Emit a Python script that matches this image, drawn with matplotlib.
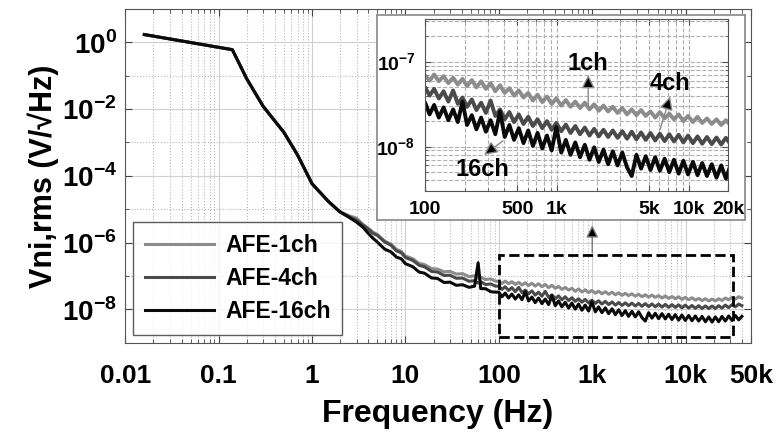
import numpy as np
import matplotlib
matplotlib.use("Agg")
import matplotlib.pyplot as plt
from matplotlib.patches import Rectangle
from matplotlib.ticker import FixedLocator, NullFormatter

plt.rcParams['font.family'] = ['Liberation Sans', 'DejaVu Sans']
plt.rcParams['font.weight'] = 'bold'
plt.rcParams['mathtext.fontset'] = 'custom'
plt.rcParams['mathtext.rm'] = 'Liberation Sans:bold'
plt.rcParams['mathtext.bf'] = 'Liberation Sans:bold'

# shared low-frequency part (V/sqrt(Hz))
f_low = [0.016, 0.14, 0.2, 0.3, 0.5, 0.7, 1.0, 1.5]
v_low = [1.7, 0.6, 0.08, 0.012, 2.0e-3, 4.2e-4, 5.8e-5, 1.7e-5]

# per-channel part, values in units of 1e-8 V/sqrt(Hz)
f_ch = [2, 2.5, 3, 3.5, 4, 4.5, 5, 6, 7, 8, 9, 10, 12, 14, 16, 19, 22, 26, 30, 35,
        41, 48, 55, 60, 64, 72, 82, 92,
        100, 108, 117, 127, 138, 150, 163, 177, 192, 208, 226, 245, 266, 289, 314,
        341, 370, 402, 436, 473, 514, 558, 606, 658, 714, 775, 841, 913, 991, 1080,
        1170, 1270, 1380, 1500, 1630, 1770, 1920, 2080, 2260, 2450, 2660, 2890, 3140,
        3410, 3700, 4020, 4360, 4730, 5140, 5580, 6060, 6580, 7140, 7750, 8410, 9130,
        9910, 10800, 11700, 12700, 13800, 15000, 16300, 17700, 19200, 20800, 22600,
        24500, 26600, 28900, 31400, 34100, 37000, 40000]

v_1ch = [850, 640, 540, 350, 270, 205, 178, 112, 90, 63, 55, 40, 33, 24, 22, 16.8,
         16.2, 13.4, 13.8, 11.5, 11.8, 9.6, 10.2, 8.7, 9.3, 7.9, 8.2, 7.1,
         6.9, 6.0, 7.1, 5.9, 6.8, 5.6, 6.5, 5.4, 6.3, 5.2, 6.1, 5.0, 5.9, 4.8, 5.6,
         4.5, 5.3, 4.3, 4.9, 4.0, 4.6, 3.8, 4.3, 3.5, 4.1, 3.35, 3.9, 3.2, 3.7, 3.05,
         3.55, 2.95, 3.4, 2.85, 3.3, 2.75, 3.15, 2.65, 3.05, 2.6, 2.95, 2.5, 2.85,
         2.4, 2.75, 2.35, 2.7, 2.3, 2.6, 2.2, 2.55, 2.15, 2.45, 2.1, 2.4, 2.0,
         2.3, 1.95, 2.25, 1.9, 2.15, 1.85, 2.1, 1.8, 2.05, 1.8, 2.1,
         1.85, 2.2, 1.95, 2.3, 2.05, 2.4, 2.2]

v_4ch = [830, 600, 470, 340, 255, 190, 165, 105, 84, 57, 50, 36, 29.5, 21, 19, 13.8,
         13.2, 10.4, 10.6, 8.6, 8.7, 7.0, 7.3, 6.2, 6.8, 5.6, 5.8, 5.0,
         5.0, 4.0, 4.8, 3.7, 4.5, 3.4, 4.6, 3.2, 3.8, 2.95, 3.6, 2.7, 3.3, 2.5, 3.5,
         2.3, 2.75, 2.1, 2.55, 1.95, 2.4, 1.85, 2.25, 1.75, 2.1, 1.65, 2.0, 1.58, 1.9,
         1.52, 1.82, 1.45, 1.75, 1.4, 1.68, 1.35, 1.62, 1.32, 1.58, 1.3, 1.55, 1.27,
         1.52, 1.24, 1.5, 1.22, 1.47, 1.2, 1.45, 1.18, 1.42, 1.16, 1.4, 1.15, 1.38,
         1.12, 1.35, 1.1, 1.32, 1.08, 1.3, 1.07, 1.28, 1.06, 1.27, 1.07, 1.3,
         1.1, 1.35, 1.14, 1.4, 1.2, 1.45, 1.3]

v_16ch = [820, 570, 410, 290, 190, 135, 104, 64, 53, 37, 33, 23.5, 19, 13.2, 12.2, 8.8,
          8.5, 6.4, 6.6, 5.3, 5.5, 4.6, 5.0, 25, 4.2, 4.2, 3.4, 3.3,
          3.3, 2.4, 3.1, 2.2, 2.9, 2.05, 2.75, 1.95, 3.4, 1.8, 2.35, 1.6, 2.2, 1.5, 2.05,
          1.4, 2.6, 1.3, 1.8, 1.2, 1.65, 1.1, 1.55, 1.02, 1.45, 0.95, 1.35, 0.9, 1.7,
          0.85, 1.2, 0.8, 1.12, 0.75, 1.05, 0.7, 0.98, 0.66, 0.92, 0.62, 0.88, 0.6,
          0.85, 0.57, 0.45, 0.8, 0.55, 0.77, 0.53, 0.75, 0.52, 0.72, 0.5, 0.7, 0.48,
          0.68, 0.47, 0.66, 0.46, 0.64, 0.45, 0.62, 0.43, 0.6, 0.42, 0.6, 0.43,
          0.62, 0.45, 0.64, 0.47, 0.66, 0.49, 0.62]

labels = ['AFE-1ch', 'AFE-4ch', 'AFE-16ch']
colors = ['#8c8c8c', '#4a4a4a', '#0a0a0a']
series = [v_1ch, v_4ch, v_16ch]

x_ticks = [0.01, 0.1, 1, 10, 100, 1e3, 1e4, 5e4]
x_ticklabels = ['0.01', '0.1', '1', '10', '100', '1k', '10k', '50k']
y_ticks = [1e-8, 1e-6, 1e-4, 1e-2, 1e0]
y_ticklabels = [r'$10^{-8}$', r'$10^{-6}$', r'$10^{-4}$', r'$10^{-2}$', r'$10^{0}$']

in_x_ticks = [100, 500, 1e3, 5e3, 1e4, 2e4]
in_x_ticklabels = ['100', '500', '1k', '5k', '10k', '20k']
in_y_ticks = [1e-8, 1e-7]
in_y_ticklabels = [r'$10^{-8}$', r'$10^{-7}$']

freq = np.array(f_low + f_ch)
curves = [np.array(v_low + [v * 1e-8 for v in s]) for s in series]

fig = plt.figure(figsize=(7.83, 4.43), dpi=100)
ax = fig.add_axes([0.160, 0.226, 0.799, 0.754])

for y, c, lab in zip(curves, colors, labels):
    ax.plot(freq, y, color=c, lw=2.2, label=lab)

ax.set_xscale('log')
ax.set_yscale('log')
ax.set_xlim(0.01, 5e4)
ax.set_ylim(1e-9, 1e1)
ax.xaxis.set_major_locator(FixedLocator(x_ticks))
ax.set_xticklabels(x_ticklabels)
ax.yaxis.set_major_locator(FixedLocator(y_ticks))
ax.set_yticklabels(y_ticklabels)
ax.yaxis.set_minor_locator(FixedLocator([1e-9, 1e-7, 1e-5, 1e-3, 1e-1, 1e1]))
ax.yaxis.set_minor_formatter(NullFormatter())
ax.tick_params(which='both', direction='in', top=True, right=True, colors='#444')
ax.tick_params(which='major', length=5, labelcolor='black')
ax.tick_params(axis='x', which='major', pad=15, labelsize=19)
ax.tick_params(axis='y', which='major', pad=6, labelsize=20)
ax.tick_params(which='minor', length=3)
ax.grid(True, which='major', color='#d0d0d0', lw=0.8, ls='-')
ax.grid(True, which='minor', color='#b8b8b8', lw=0.8, ls=':')
for s in ax.spines.values():
    s.set_color('#555')
ax.set_xlabel('Frequency (Hz)', fontsize=23, fontweight='bold', labelpad=8)
ax.set_ylabel('Vni,rms (V/\u221aHz)', fontsize=22, fontweight='bold', labelpad=2)

leg = ax.legend(loc='lower left', fontsize=16.5, frameon=True, fancybox=False,
                borderaxespad=0.35, handlelength=3.0, handletextpad=0.5,
                labelspacing=0.45, borderpad=0.5)
leg.get_frame().set_edgecolor('#333')
leg.get_frame().set_linewidth(1.0)
for t in leg.get_texts():
    t.set_fontweight('bold')

ax.add_patch(Rectangle((100, 1.5e-9), 32000 - 100, 4.2e-7 - 1.5e-9, fill=False,
                       ls='--', lw=2, ec='black', zorder=5))
ax.annotate('', xy=(1000, 4.0e-6), xytext=(1000, 4.2e-7),
            arrowprops=dict(arrowstyle='-|>', color='#777', lw=1.0,
                            mutation_scale=18, fc='black'), zorder=5)

# white frame behind the inset
frame = fig.add_axes([0.4815, 0.5034, 0.470, 0.4628])
frame.set_xticks([])
frame.set_yticks([])
frame.set_facecolor('white')
for s in frame.spines.values():
    s.set_color('#888')
    s.set_linewidth(1.2)

ins = fig.add_axes([0.543, 0.569, 0.387, 0.388])
for y, c in zip(curves, colors):
    ins.plot(freq, y, color=c, lw=2.8)
ins.set_xscale('log')
ins.set_yscale('log')
ins.set_xlim(100, 2e4)
ins.set_ylim(3e-9, 3.2e-7)
ins.xaxis.set_major_locator(FixedLocator(in_x_ticks))
ins.set_xticklabels(in_x_ticklabels)
ins.yaxis.set_major_locator(FixedLocator(in_y_ticks))
ins.set_yticklabels(in_y_ticklabels)
ins.xaxis.set_minor_formatter(NullFormatter())
ins.yaxis.set_minor_formatter(NullFormatter())
ins.tick_params(which='both', direction='in', top=True, right=True, colors='#555')
ins.tick_params(which='major', length=4, labelsize=14, labelcolor='black', pad=7)
ins.tick_params(which='minor', length=2)
ins.grid(True, which='both', color='#b0b0b0', lw=0.8, ls='--')
for s in ins.spines.values():
    s.set_color('#555')

ins.text(1730, 9.5e-8, '1ch', fontsize=17, fontweight='bold', ha='center', va='center')
ins.text(7250, 5.6e-8, '4ch', fontsize=17, fontweight='bold', ha='center', va='center')
ins.text(271, 5.4e-9, '16ch', fontsize=17, fontweight='bold', ha='center', va='center')
arrow = dict(arrowstyle='-|>', color='#888', lw=1.0, mutation_scale=20, fc='black',
             shrinkA=0, shrinkB=0)
ins.annotate('', xy=(1730, 7.0e-8), xytext=(1730, 3.0e-8), arrowprops=arrow)
ins.annotate('', xy=(7250, 3.9e-8), xytext=(6080, 1.6e-8), arrowprops=arrow)
ins.annotate('', xy=(280, 8.0e-9), xytext=(390, 1.17e-8), arrowprops=arrow)

fig.savefig('out.png', dpi=100, facecolor='white')
